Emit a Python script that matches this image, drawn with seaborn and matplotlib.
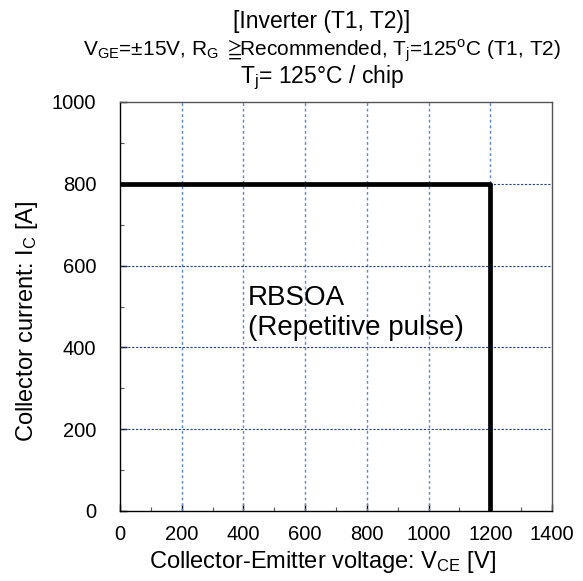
import matplotlib
matplotlib.use("Agg")
import matplotlib.pyplot as plt
from matplotlib.ticker import MultipleLocator
import seaborn as sns
import pandas as pd

# RBSOA boundary (reverse-biased safe operating area)
voltage_v = [0, 1200, 1200]
current_a = [800, 800, 0]

x_ticks = [0, 200, 400, 600, 800, 1000, 1200, 1400]
y_ticks = [0, 200, 400, 600, 800, 1000]

title_lines = [
    "[Inverter (T1, T2)]",
    r"V$_{\mathregular{GE}}$=±15V, R$_{\mathregular{G}}$ ${\geqq}\!\!$Recommended, T$_{\mathregular{j}}$=125$^{\mathregular{o}}$C (T1, T2)",
    r"T$_{\mathregular{j}}$= 125°C / chip",
]

sns.set_theme(style="white")
plt.rcParams["font.family"] = ["Liberation Sans", "DejaVu Sans"]
plt.rcParams["mathtext.fontset"] = "custom"
plt.rcParams["mathtext.rm"] = "Liberation Sans"
plt.rcParams["mathtext.it"] = "Liberation Sans:italic"
plt.rcParams["mathtext.bf"] = "Liberation Sans:bold"
plt.rcParams["mathtext.fallback"] = "stixsans"
for key in ("text.color", "axes.labelcolor", "xtick.color", "ytick.color"):
    plt.rcParams[key] = "black"

df = pd.DataFrame({"V": voltage_v, "I": current_a})

W, H = 583, 581
fig = plt.figure(figsize=(W / 100, H / 100), dpi=100)
ax = fig.add_axes([120 / W, 70 / H, 432 / W, 409 / H])

# dotted grid
for xv in x_ticks[1:-1]:
    ax.axvline(xv, color="#5a86d2", lw=1.0, ls=(0, (2, 2)), zorder=1)
for yv in y_ticks[1:-1]:
    ax.axhline(yv, color="#22408f", lw=0.8, ls=(0, (2, 1.5)), zorder=1)

sns.lineplot(data=df, x="V", y="I", sort=False, estimator=None, color="black",
             lw=3.4, ax=ax, zorder=3)

ax.set_xlim(0, 1400)
ax.set_ylim(0, 1000)
ax.set_xticks(x_ticks)
ax.set_yticks(y_ticks)
ax.xaxis.set_minor_locator(MultipleLocator(100))
ax.yaxis.set_minor_locator(MultipleLocator(100))
ax.tick_params(which="major", direction="in", length=5, width=1, color="black",
               labelcolor="black", labelsize=14.5, left=True, bottom=True)
ax.tick_params(which="minor", direction="in", length=3, width=0.8, color="#555555",
               left=True, bottom=True)
ax.tick_params(axis="y", pad=17)
ax.tick_params(axis="x", pad=10)

for name, sp in ax.spines.items():
    sp.set_linewidth(1.0)
    sp.set_color("black" if name in ("left", "bottom") else "#555555")

ax.set_xlabel(r"Collector-Emitter voltage: V$_{\mathregular{CE}}$ [V]", fontsize=17,
              va="baseline", color="black")
ax.xaxis.set_label_coords(0.468, (511 - 568) / 409)
ax.set_ylabel(r"Collector current: I$_{\mathregular{C}}$ [A]", fontsize=17, va="center",
              color="black")
ax.yaxis.set_label_coords((27 - 120) / 432, (511 - 321) / 409)

ax.text(415, 504, "RBSOA", fontsize=20, ha="left", va="baseline", zorder=4, color="black")
ax.text(415, 430, "(Repetitive pulse)", fontsize=20, ha="left", va="baseline", zorder=4,
        color="black")

cx = 322 / W
fig.text(cx, 1 - 28 / H, title_lines[0], fontsize=16.5, ha="center", va="baseline")
fig.text(cx, 1 - 56 / H, title_lines[1], fontsize=15, ha="center", va="baseline")
fig.text(cx, 1 - 83 / H, title_lines[2], fontsize=16.5, ha="center", va="baseline")

fig.savefig("out.png", dpi=100)
